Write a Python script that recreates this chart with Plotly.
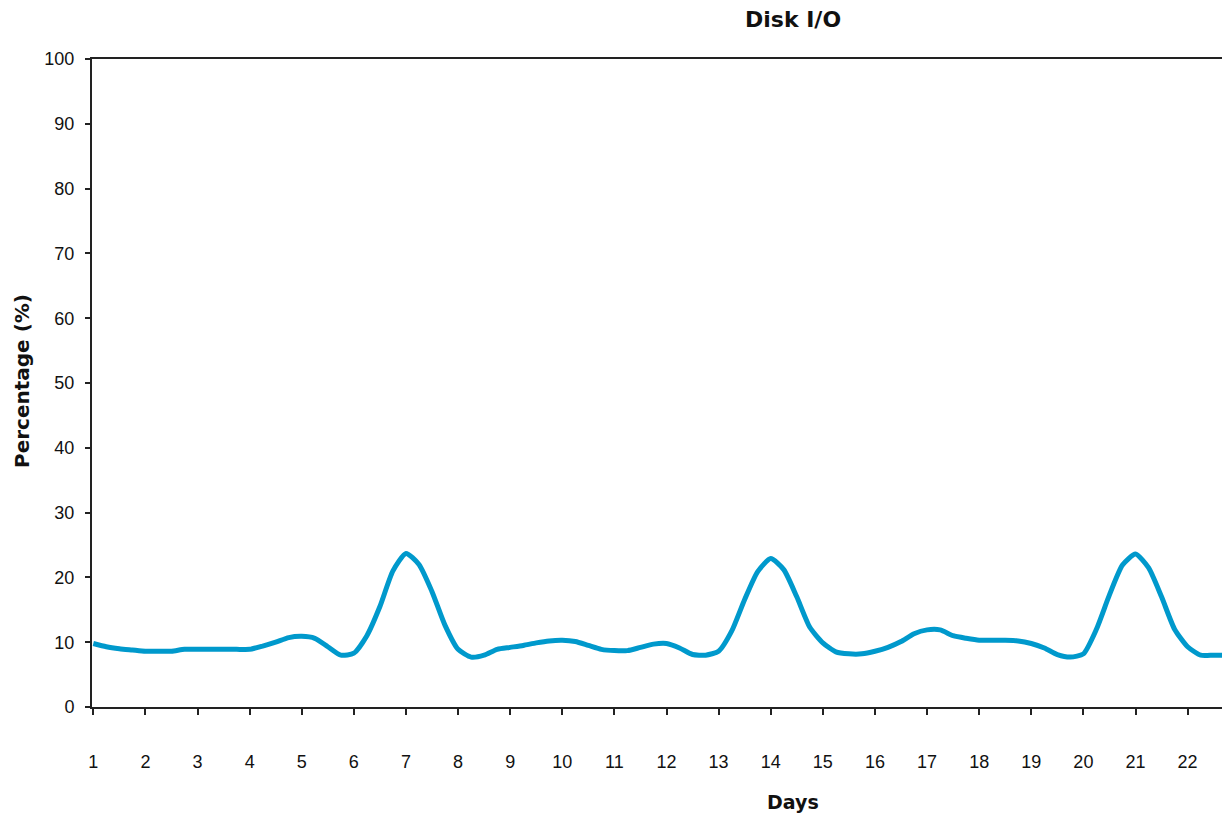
import plotly.graph_objects as go

# Day positions (every quarter day) and disk I/O percentage
days = [1.00, 1.25, 1.50, 1.75, 2.00, 2.25, 2.50, 2.75, 3.00, 3.25, 3.50, 3.75,
        4.00, 4.25, 4.50, 4.75, 5.00, 5.25, 5.50, 5.75, 6.00, 6.25, 6.50, 6.75,
        7.00, 7.25, 7.50, 7.75, 8.00, 8.25, 8.50, 8.75, 9.00, 9.25, 9.50, 9.75,
        10.00, 10.25, 10.50, 10.75, 11.00, 11.25, 11.50, 11.75, 12.00, 12.25, 12.50, 12.75,
        13.00, 13.25, 13.50, 13.75, 14.00, 14.25, 14.50, 14.75, 15.00, 15.25, 15.50, 15.75,
        16.00, 16.25, 16.50, 16.75, 17.00, 17.25, 17.50, 17.75, 18.00, 18.25, 18.50, 18.75,
        19.00, 19.25, 19.50, 19.75, 20.00, 20.25, 20.50, 20.75, 21.00, 21.25, 21.50, 21.75,
        22.00, 22.25, 22.50, 22.75]

disk_io = [9.8, 9.3, 9.0, 8.8, 8.6, 8.6, 8.6, 8.9, 8.9, 8.9, 8.9, 8.9,
           8.9, 9.4, 10.0, 10.7, 10.9, 10.6, 9.3, 8.0, 8.3, 11.0, 15.5, 21.0,
           23.7, 22.0, 17.8, 12.6, 8.9, 7.7, 8.0, 8.9, 9.2, 9.5, 9.9, 10.2,
           10.3, 10.1, 9.5, 8.9, 8.7, 8.7, 9.2, 9.7, 9.8, 9.1, 8.1, 8.0,
           8.6, 11.7, 16.6, 20.9, 22.9, 21.2, 17.0, 12.3, 9.9, 8.5, 8.2, 8.2,
           8.6, 9.2, 10.1, 11.3, 11.9, 11.9, 11.0, 10.6, 10.3, 10.3, 10.3, 10.2,
           9.8, 9.1, 8.1, 7.7, 8.2, 12.0, 17.3, 21.9, 23.6, 21.5, 17.0, 12.0,
           9.3, 8.0, 8.0, 8.0]

x_ticks = list(range(1, 23))
y_ticks = list(range(0, 101, 10))

fig = go.Figure()
fig.add_trace(go.Scatter(
    x=days, y=disk_io, mode="lines",
    line=dict(color="#0099CC", width=5, shape="spline", smoothing=0.6),
    hoverinfo="skip", showlegend=False,
))

tick_font = dict(family="Liberation Sans, Arial, sans-serif", size=18, color="#111")
title_font = dict(family="DejaVu Sans, Verdana, sans-serif", size=19, color="#111")

fig.update_layout(
    width=1222, height=816,
    margin=dict(l=92, r=0, t=59, b=109),
    paper_bgcolor="white", plot_bgcolor="white",
    xaxis=dict(
        range=[0.975, 22.66], tickmode="array", tickvals=x_ticks,
        ticktext=[str(v) for v in x_ticks],
        showgrid=False, zeroline=False,
        showline=True, linecolor="#222", linewidth=2, mirror=True,
        ticks="outside", ticklen=6, tickwidth=2, tickcolor="#222",
        tickfont=tick_font, ticklabelstandoff=31,
    ),
    yaxis=dict(
        range=[0, 100], tickmode="array", tickvals=y_ticks,
        showgrid=False, zeroline=False,
        showline=True, linecolor="#222", linewidth=2,
        ticks="outside", ticklen=5, tickwidth=2, tickcolor="#222",
        tickfont=tick_font, ticklabelstandoff=7,
    ),
    annotations=[
        dict(text="<b>Disk I/O</b>", xref="paper", yref="paper",
             x=(793 - 92) / 1130, y=1, yshift=40, showarrow=False,
             xanchor="center", yanchor="middle",
             font=dict(family="DejaVu Sans, Verdana, sans-serif", size=22, color="#111")),
        dict(text="<b>Percentage (%)</b>", xref="paper", yref="paper",
             x=0, xshift=-70, y=(707 - 381) / 648, showarrow=False, textangle=-90,
             xanchor="center", yanchor="middle", font=dict(title_font, size=20)),
        dict(text="<b>Days</b>", xref="paper", yref="paper",
             x=(793 - 92) / 1130, y=0, yshift=-95, showarrow=False,
             xanchor="center", yanchor="middle", font=title_font),
    ],
)

fig.write_html("out.html", config={"displayModeBar": False},
               post_script="document.body.style.margin='0';document.body.style.overflow='hidden';")
